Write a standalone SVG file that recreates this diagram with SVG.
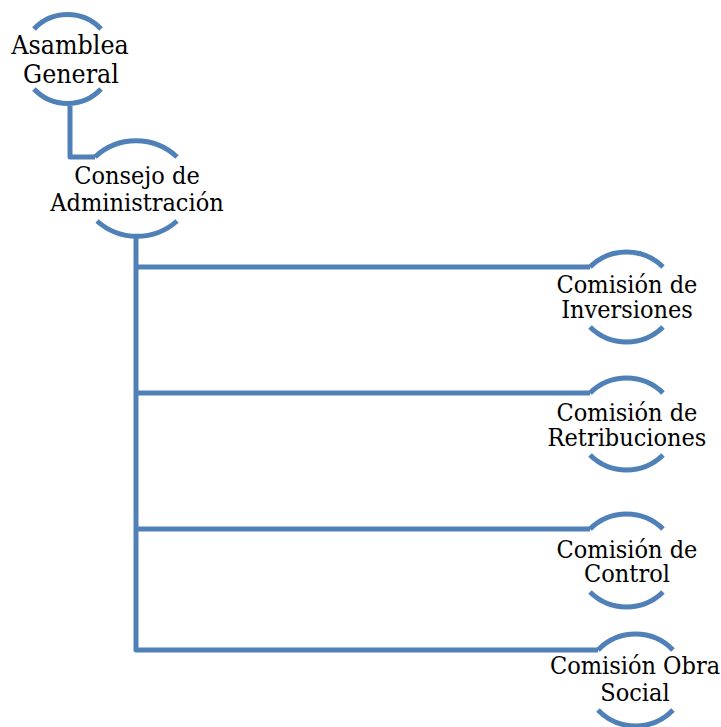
<svg xmlns="http://www.w3.org/2000/svg" width="721" height="727" viewBox="0 0 721 727">
<style>
.arc{fill:none;stroke:#4f81b8;stroke-width:5;stroke-linecap:butt}
.ln{fill:none;stroke:#4f81b8;stroke-width:5;stroke-linejoin:round}
.t{font-family:"DejaVu Serif Condensed","DejaVu Serif","Liberation Serif",serif;font-stretch:condensed;fill:#000;text-anchor:middle}
</style>
<rect width="721" height="727" fill="#fff"/>
<g id="connectors">
<path class="ln" d="M70 106 V157 H95"/>
<path class="ln" d="M136 236 V650 H598"/>
<path class="ln" d="M136 267 H590"/>
<path class="ln" d="M136 393 H590"/>
<path class="ln" d="M136 529 H590"/>
</g>
<g id="asamblea">
<path class="arc" d="M34 29 A46 46 0 0 1 101 29"/>
<path class="arc" d="M34 89 A46 46 0 0 0 101 89"/>
<text class="t" font-size="26.5" x="70" y="54">Asamblea</text>
<text class="t" font-size="26.5" x="71" y="83">General</text>
</g>
<g id="consejo">
<path class="arc" d="M95 157 A60 60 0 0 1 177 157"/>
<path class="arc" d="M97 221 A60 60 0 0 0 177 221"/>
<text class="t" font-size="25" x="137" y="184">Consejo de</text>
<text class="t" font-size="25" x="137" y="211">Administración</text>
</g>
<g id="inversiones">
<path class="arc" d="M590 267 A52 52 0 0 1 663 267"/>
<path class="arc" d="M590 327 A52 52 0 0 0 663 327"/>
<text class="t" font-size="25" x="627" y="293">Comisión de</text>
<text class="t" font-size="25" x="627" y="318">Inversiones</text>
</g>
<g id="retribuciones">
<path class="arc" d="M590 393 A52 52 0 0 1 663 393"/>
<path class="arc" d="M590 455 A52 52 0 0 0 663 455"/>
<text class="t" font-size="25" x="627" y="421">Comisión de</text>
<text class="t" font-size="25" x="627" y="446">Retribuciones</text>
</g>
<g id="control">
<path class="arc" d="M590 529 A52 52 0 0 1 663 529"/>
<path class="arc" d="M590 592 A52 52 0 0 0 663 592"/>
<text class="t" font-size="25" x="627" y="558">Comisión de</text>
<text class="t" font-size="25" x="627" y="582">Control</text>
</g>
<g id="obra">
<path class="arc" d="M598 650 A52 52 0 0 1 673 650"/>
<path class="arc" d="M598 710 A52 52 0 0 0 673 710"/>
<text class="t" font-size="25" x="635" y="674">Comisión Obra</text>
<text class="t" font-size="25" x="635" y="701">Social</text>
</g>
</svg>
